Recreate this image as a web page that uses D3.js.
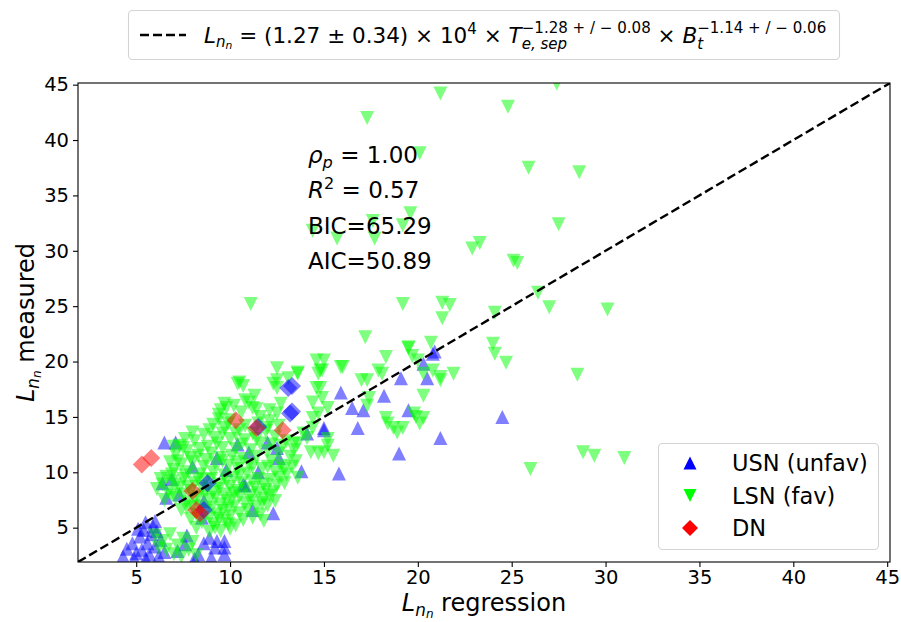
<!DOCTYPE html>
<html>
<head>
<meta charset="utf-8">
<script src="https://cdn.jsdelivr.net/npm/d3@7"></script>
<style>
  html, body { margin: 0; padding: 0; background: #fff; }
  svg { display: block; font-family: "DejaVu Sans", sans-serif; }
</style>
</head>
<body>
<svg id="chart" width="901" height="622"></svg>
<script>
// ---- data: [L regression, L measured] ----
const usnPoints = [
  [4.3,2.4],[4.5,3.1],[4.8,3.6],[5.0,2.7],[5.2,4.2],[5.3,3.0],[5.4,4.8],[5.5,5.5],[5.6,3.6],[5.7,2.6],
  [5.8,4.4],[5.9,5.1],[6.0,3.3],[6.1,4.7],[6.2,2.4],[6.3,3.9],[6.0,5.6],[5.5,2.2],[6.5,2.8],[4.9,2.2],[5.1,4.9],
  [7.2,2.9],[7.6,3.5],[8.3,2.6],[8.6,3.6],[8.9,4.1],[9.3,3.8],[9.2,3.2],[9.7,2.6],[9.7,3.2],[9.7,3.8],
  [9.0,2.3],[8.1,2.2],[7.7,4.3],
  [6.5,12.7],[7.1,12.7],[6.4,9.0],[9.3,11.3],[10.8,8.8],[12.0,12.7],[12.3,6.3],[11.2,6.6],[7.3,8.0],
  [8.6,7.4],[9.8,10.2],[11.5,10.0],[10.4,12.5],[8.5,5.9],[12.6,11.3],[10.7,8.9],[11.0,11.8],[8.0,10.5],
  [6.6,7.7],[6.9,9.4],
  [20.8,20.7],[20.3,19.8],[20.5,18.5],[19.1,18.5],[18.2,16.9],[19.5,15.6],[21.2,13.1],[19.0,11.7],
  [17.1,15.6],[16.5,15.8],[16.8,14.0],[15.9,17.2],[15.0,14.0],[15.8,9.9],[13.8,10.1],[15.0,13.8],
  [14.1,13.5],[12.5,12.2],[24.5,15.0],[20.9,20.9]
];

const lsnPoints = [
  // upper scatter
  [27.4,45.1],[21.2,44.2],[24.8,43.0],[17.3,42.0],[20.1,38.8],[25.9,37.5],[28.6,37.1],[27.5,32.4],
  [19.6,33.4],[19.2,32.3],[17.6,32.7],[14.4,31.8],[15.7,31.1],[17.7,31.1],[22.9,30.2],[23.3,30.7],
  [25.1,29.1],[25.3,28.9],[26.4,26.2],[27.0,24.9],[30.1,24.7],[24.1,24.4],[21.3,25.3],[21.7,25.1],
  [21.3,23.9],[19.2,25.2],[11.1,25.2],[20.7,21.7],[19.5,21.3],[24.0,21.6],[24.1,20.7],[24.7,19.9],
  [28.5,18.8],[28.8,11.8],[29.4,11.5],[31.0,11.3],[26.0,10.3],
  // middle band
  [17.2,22.2],[18.3,20.4],[19.5,21.2],[19.7,20.5],[20.0,20.1],[21.2,18.6],[21.9,18.9],[20.3,16.9],
  [19.8,15.3],[20.3,14.9],[20.1,14.4],[19.2,14.0],[18.9,13.6],[18.3,14.9],[18.4,14.4],[17.4,16.7],
  [17.3,16.0],[17.9,19.2],[18.1,18.9],[17.0,18.3],[17.3,18.3],[15.9,19.5],[14.8,19.2],[15.0,20.1],
  [14.7,18.9],[14.8,17.6],[14.9,16.7],[15.2,15.8],[13.6,18.9],[13.1,18.5],[12.5,19.4],[12.5,17.6],
  [12.3,18.0],[14.4,14.9],[14.4,14.0],[13.9,13.5],[14.1,13.1],[13.6,12.6],[14.3,11.8],[14.7,11.7],
  [15.0,11.8],[15.5,11.5],[15.2,13.0],[15.2,12.4],[13.4,12.0],[18.7,14.0],[19.9,15.0],[16.0,19.5],
  [14.6,20.1],[14.9,19.2],[12.5,18.3],[13.6,19.0],[20.3,18.9],[20.8,19.2],[21.2,18.3],
  // dense core
  [9.4,15.2],[9.8,15.8],[10.2,16.0],[10.6,15.4],[11.0,16.3],[11.6,15.0],[12.1,14.6],[12.6,14.2],
  [9.1,14.3],[9.7,14.0],[10.5,13.8],[11.2,13.5],[11.9,13.7],[12.4,13.2],[8.6,13.4],[9.2,13.1],
  [10.0,13.0],[10.8,12.9],[11.6,12.6],[7.6,13.0],[8.1,12.8],[7.3,12.4],[8.8,12.3],[9.6,12.2],
  [10.3,12.1],[11.1,12.0],[12.0,11.9],[12.8,12.4],[13.2,11.4],
  [7.1,11.6],[7.7,11.9],[8.3,11.5],[9.0,11.7],[9.5,11.3],[10.1,11.5],[10.7,11.2],[11.4,11.4],
  [12.2,11.0],[12.7,10.6],[6.8,10.9],[7.4,10.7],[8.0,10.9],[8.6,10.5],[9.2,10.8],[9.9,10.6],
  [10.4,10.3],[11.0,10.7],[11.7,10.3],[12.4,10.0],[13.0,9.8],[7.0,10.2],[7.8,10.0],[8.4,9.8],
  [9.1,10.0],[9.7,9.7],[10.2,9.5],[10.9,9.9],[11.5,9.4],[12.1,9.3],
  [6.3,9.4],[6.9,9.2],[7.5,9.4],[8.1,9.0],[8.7,9.3],[9.4,8.9],[10.0,8.7],[10.6,9.0],[11.3,8.6],
  [11.9,8.4],[12.5,8.8],[6.1,8.5],[6.7,8.2],[7.3,8.6],[7.9,8.3],[8.5,8.7],[9.1,8.2],[9.7,8.0],
  [10.4,8.3],[11.1,7.9],[11.8,7.6],[12.4,7.4],
  [6.5,7.5],[7.1,7.7],[7.7,7.3],[8.3,7.8],[8.9,7.5],[9.5,7.1],[10.1,7.6],[10.8,7.2],[11.4,6.9],
  [7.4,6.6],[8.0,6.9],[8.7,6.5],[9.3,6.2],[9.9,6.7],[10.5,6.3],[11.6,6.2],[12.0,7.0],[7.9,5.8],
  [8.5,5.5],[9.1,5.3],[9.7,5.6],[10.3,5.2],[9.5,4.7],[8.9,4.6],[10.0,4.9],[8.2,5.0],
  [13.0,12.8],[13.5,11.0],[12.9,9.0],[13.6,9.5],[12.3,8.2],[11.8,5.6],
  [7.5,12.2],[8.4,12.1],[9.3,12.6],[10.6,12.5],[11.4,13.0],[12.2,12.5],[7.2,11.0],[7.9,11.3],
  [8.7,11.1],[9.6,11.0],[10.4,10.9],[11.2,10.5],[12.0,10.5],[6.9,9.8],[7.6,9.7],[8.3,9.4],
  [9.0,9.4],[9.8,9.2],[10.5,9.7],[11.2,9.2],[11.8,8.9],[6.4,8.9],[7.1,8.9],[7.8,8.7],
  [8.8,8.5],[9.4,8.5],[10.2,8.1],[10.8,8.5],[11.5,8.1],[12.1,7.9],[6.9,7.9],[7.5,8.0],
  [8.1,7.6],[8.6,8.0],[9.2,7.7],[9.8,7.4],[10.5,7.8],[11.1,7.4],[11.7,7.2],[7.7,6.8],
  [8.4,6.9],[9.0,6.8],[9.6,6.5],[10.2,6.9],[10.9,6.6],[8.2,6.2],[8.9,5.9],[9.4,5.8],
  [10.0,6.0],[10.7,5.7],[11.2,5.9],[9.2,5.0],[9.9,5.3],[12.6,9.5],[12.9,10.3],[13.3,10.5],
  [12.6,11.7],[13.4,12.6],[9.9,14.4],[10.8,14.2],[11.5,14.4],[12.0,14.0],[10.3,13.5],[8.9,13.8],
  [9.6,13.5],[8.0,13.6],[7.0,12.3],[6.6,9.6],
  // lower-left group
  [6.0,4.3],[6.4,3.8],[6.8,4.4],[7.2,3.4],[6.6,3.0],[7.0,2.6],[7.5,4.0],[7.8,3.0],[6.2,3.2],
  [7.4,2.4],[8.2,2.5],[8.0,3.7],
  // above the core
  [10.5,18.1],[10.7,17.8],[10.4,18.0],[11.3,16.9],[10.8,16.5],[9.7,16.2],[9.5,15.6],[9.4,14.8],
  [10.0,14.7],[11.2,15.8],[11.4,15.7],[12.1,15.6],[12.5,15.3],[12.7,16.2],[14.6,17.6],[14.4,16.3],
  [14.7,15.3]
];

const usnDiamonds = [[8.8,9.0],[11.5,14.1],[13.1,17.6],[13.3,17.8],[13.2,15.3],[13.3,15.5],[8.6,6.6]];

const dnPoints = [[5.3,10.7],[5.8,11.3],[8.0,8.3],[8.2,6.6],[8.4,6.3],[10.3,14.7],[11.4,14.0],[12.8,13.8]];

const tickValues = [5, 10, 15, 20, 25, 30, 35, 40, 45];
const axisDomain = [1.9, 45.15];

const statLines = [
  [{t:"ρ",i:true},{t:"p",i:true,s:0.7,dy:0.22},{t:" = 1.00"}],
  [{t:"R",i:true},{t:"2",s:0.7,dy:-0.42},{t:" = 0.57"}],
  [{t:"BIC=65.29"}],
  [{t:"AIC=50.89"}]
];

const legendEntries = [
  {label:"USN (unfav)", color:"#0000ff", shape:"up"},
  {label:"LSN (fav)", color:"#00ff00", shape:"down"},
  {label:"DN", color:"#ff0000", shape:"diamond"}
];

// ---- layout ----
const svg = d3.select("#chart");
const plot = {left: 78, right: 890, top: 83, bottom: 562};

const x = d3.scaleLinear().domain(axisDomain).range([plot.left, plot.right]);
const y = d3.scaleLinear().domain(axisDomain).range([plot.bottom, plot.top]);

svg.append("defs").append("clipPath").attr("id", "plotClip")
  .append("rect")
  .attr("x", plot.left).attr("y", plot.top)
  .attr("width", plot.right - plot.left).attr("height", plot.bottom - plot.top);

// marker shapes
function markerPath(shape, r) {
  if (shape === "up") return `M0,${-r}L${-r},${r}L${r},${r}Z`;
  if (shape === "down") return `M0,${r}L${-r},${-r}L${r},${-r}Z`;
  return `M0,${-r}L${r},0L0,${r}L${-r},0Z`;
}

const marks = svg.append("g").attr("clip-path", "url(#plotClip)");

function scatter(data, shape, color, r) {
  marks.append("g").selectAll("path").data(data).join("path")
    .attr("d", markerPath(shape, r))
    .attr("transform", d => `translate(${x(d[0])},${y(d[1])})`)
    .attr("fill", color)
    .attr("fill-opacity", 0.5);
}

scatter(usnPoints, "up", "#0000ff", 7);
scatter(lsnPoints, "down", "#00ff00", 7);
scatter(usnDiamonds, "diamond", "#0000ff", 9);
scatter(dnPoints, "diamond", "#ff0000", 9);

// one-to-one regression line
marks.append("line")
  .attr("x1", x(axisDomain[0])).attr("y1", y(axisDomain[0]))
  .attr("x2", x(axisDomain[1])).attr("y2", y(axisDomain[1]))
  .attr("stroke", "#000").attr("stroke-width", 2.4)
  .attr("stroke-dasharray", "9,4");

// axes
const xAxis = svg.append("g")
  .attr("transform", `translate(0,${plot.bottom})`)
  .call(d3.axisBottom(x).tickValues(tickValues).tickSize(5).tickPadding(3).tickFormat(d3.format("d")));
const yAxis = svg.append("g")
  .attr("transform", `translate(${plot.left},0)`)
  .call(d3.axisLeft(y).tickValues(tickValues).tickSize(5).tickPadding(4).tickFormat(d3.format("d")));
[xAxis, yAxis].forEach(a => {
  a.select(".domain").remove();
  a.selectAll(".tick line").attr("stroke", "#000").attr("stroke-width", 1.1);
  a.selectAll(".tick text").attr("font-size", 19.5).attr("font-family", "DejaVu Sans").attr("fill", "#000");
});

svg.append("rect")
  .attr("x", plot.left).attr("y", plot.top)
  .attr("width", plot.right - plot.left).attr("height", plot.bottom - plot.top)
  .attr("fill", "none").attr("stroke", "#000").attr("stroke-width", 1.1);

// ---- simple math-text layout ----
// A segment is a list of pieces {t, i, s, dy}; {stack:[segA, segB]} places two segments at the same x.
function drawSegment(g, seg, x0, baseY, fs) {
  let cx = x0;
  seg.forEach(p => {
    if (p.stack) {
      const ends = p.stack.map(sub => drawSegment(g, sub, cx, baseY, fs));
      cx = Math.max(...ends);
      return;
    }
    const t = g.append("text")
      .attr("x", cx).attr("y", baseY + (p.dy || 0) * fs)
      .attr("font-size", fs * (p.s || 1))
      .attr("font-style", p.i ? "oblique" : "normal")
      .attr("fill", "#000")
      .style("white-space", "pre")
      .text(p.t);
    cx += t.node().getComputedTextLength();
  });
  return cx;
}

const Lnn = [{t:"L",i:true},{t:"n",i:true,s:0.7,dy:0.2},{t:"n",i:true,s:0.5,dy:0.3}];

// top legend with the regression formula
const topLeg = svg.append("g");
topLeg.append("rect")
  .attr("x", 128.5).attr("y", 10.5).attr("width", 711).attr("height", 49).attr("rx", 4)
  .attr("fill", "#fff").attr("stroke", "#d4d4d4").attr("stroke-width", 1.1);
topLeg.append("line")
  .attr("x1", 140).attr("x2", 186).attr("y1", 35).attr("y2", 35)
  .attr("stroke", "#000").attr("stroke-width", 2.4).attr("stroke-dasharray", "9,4");
drawSegment(topLeg, [
  ...Lnn,
  {t:" = (1.27 ± 0.34) × 10"},
  {t:"4", s:0.7, dy:-0.42},
  {t:" × "},
  {t:"T", i:true},
  {stack:[
    [{t:"e, sep", i:true, s:0.7, dy:0.3}],
    [{t:"−1.28 + / − 0.08", s:0.7, dy:-0.45}]
  ]},
  {t:" × "},
  {t:"B", i:true},
  {stack:[
    [{t:"t", i:true, s:0.7, dy:0.3}],
    [{t:"−1.14 + / − 0.06", s:0.7, dy:-0.45}]
  ]}
], 204, 43, 21.5);

// statistics annotation
statLines.forEach((line, k) => {
  drawSegment(svg.append("g"), line, 308, 163 + k * 35.3, 23);
});

// axis labels
const xl = svg.append("g");
const xlw = drawSegment(xl, [...Lnn, {t:" regression"}], 0, 0, 24);
xl.attr("transform", `translate(${(plot.left + plot.right) / 2 - xlw / 2},611)`);

const yl = svg.append("g");
const ylw = drawSegment(yl, [...Lnn, {t:" measured"}], 0, 0, 24);
yl.attr("transform", `translate(34,${(plot.top + plot.bottom) / 2 + ylw / 2}) rotate(-90)`);

// lower-right legend
const leg = svg.append("g");
leg.append("rect")
  .attr("x", 658.5).attr("y", 443.5).attr("width", 220).attr("height", 106).attr("rx", 4)
  .attr("fill", "#fff").attr("fill-opacity", 0.8).attr("stroke", "#d4d4d4").attr("stroke-width", 1.1);
legendEntries.forEach((e, k) => {
  const cy = 463 + k * 32.5;
  leg.append("path")
    .attr("d", markerPath(e.shape, e.shape === "diamond" ? 8 : 6.5))
    .attr("transform", `translate(690,${cy})`)
    .attr("fill", e.color);
  leg.append("text")
    .attr("x", 732).attr("y", cy + 8)
    .attr("font-size", 22.5).attr("fill", "#000")
    .text(e.label);
});
</script>
</body>
</html>
